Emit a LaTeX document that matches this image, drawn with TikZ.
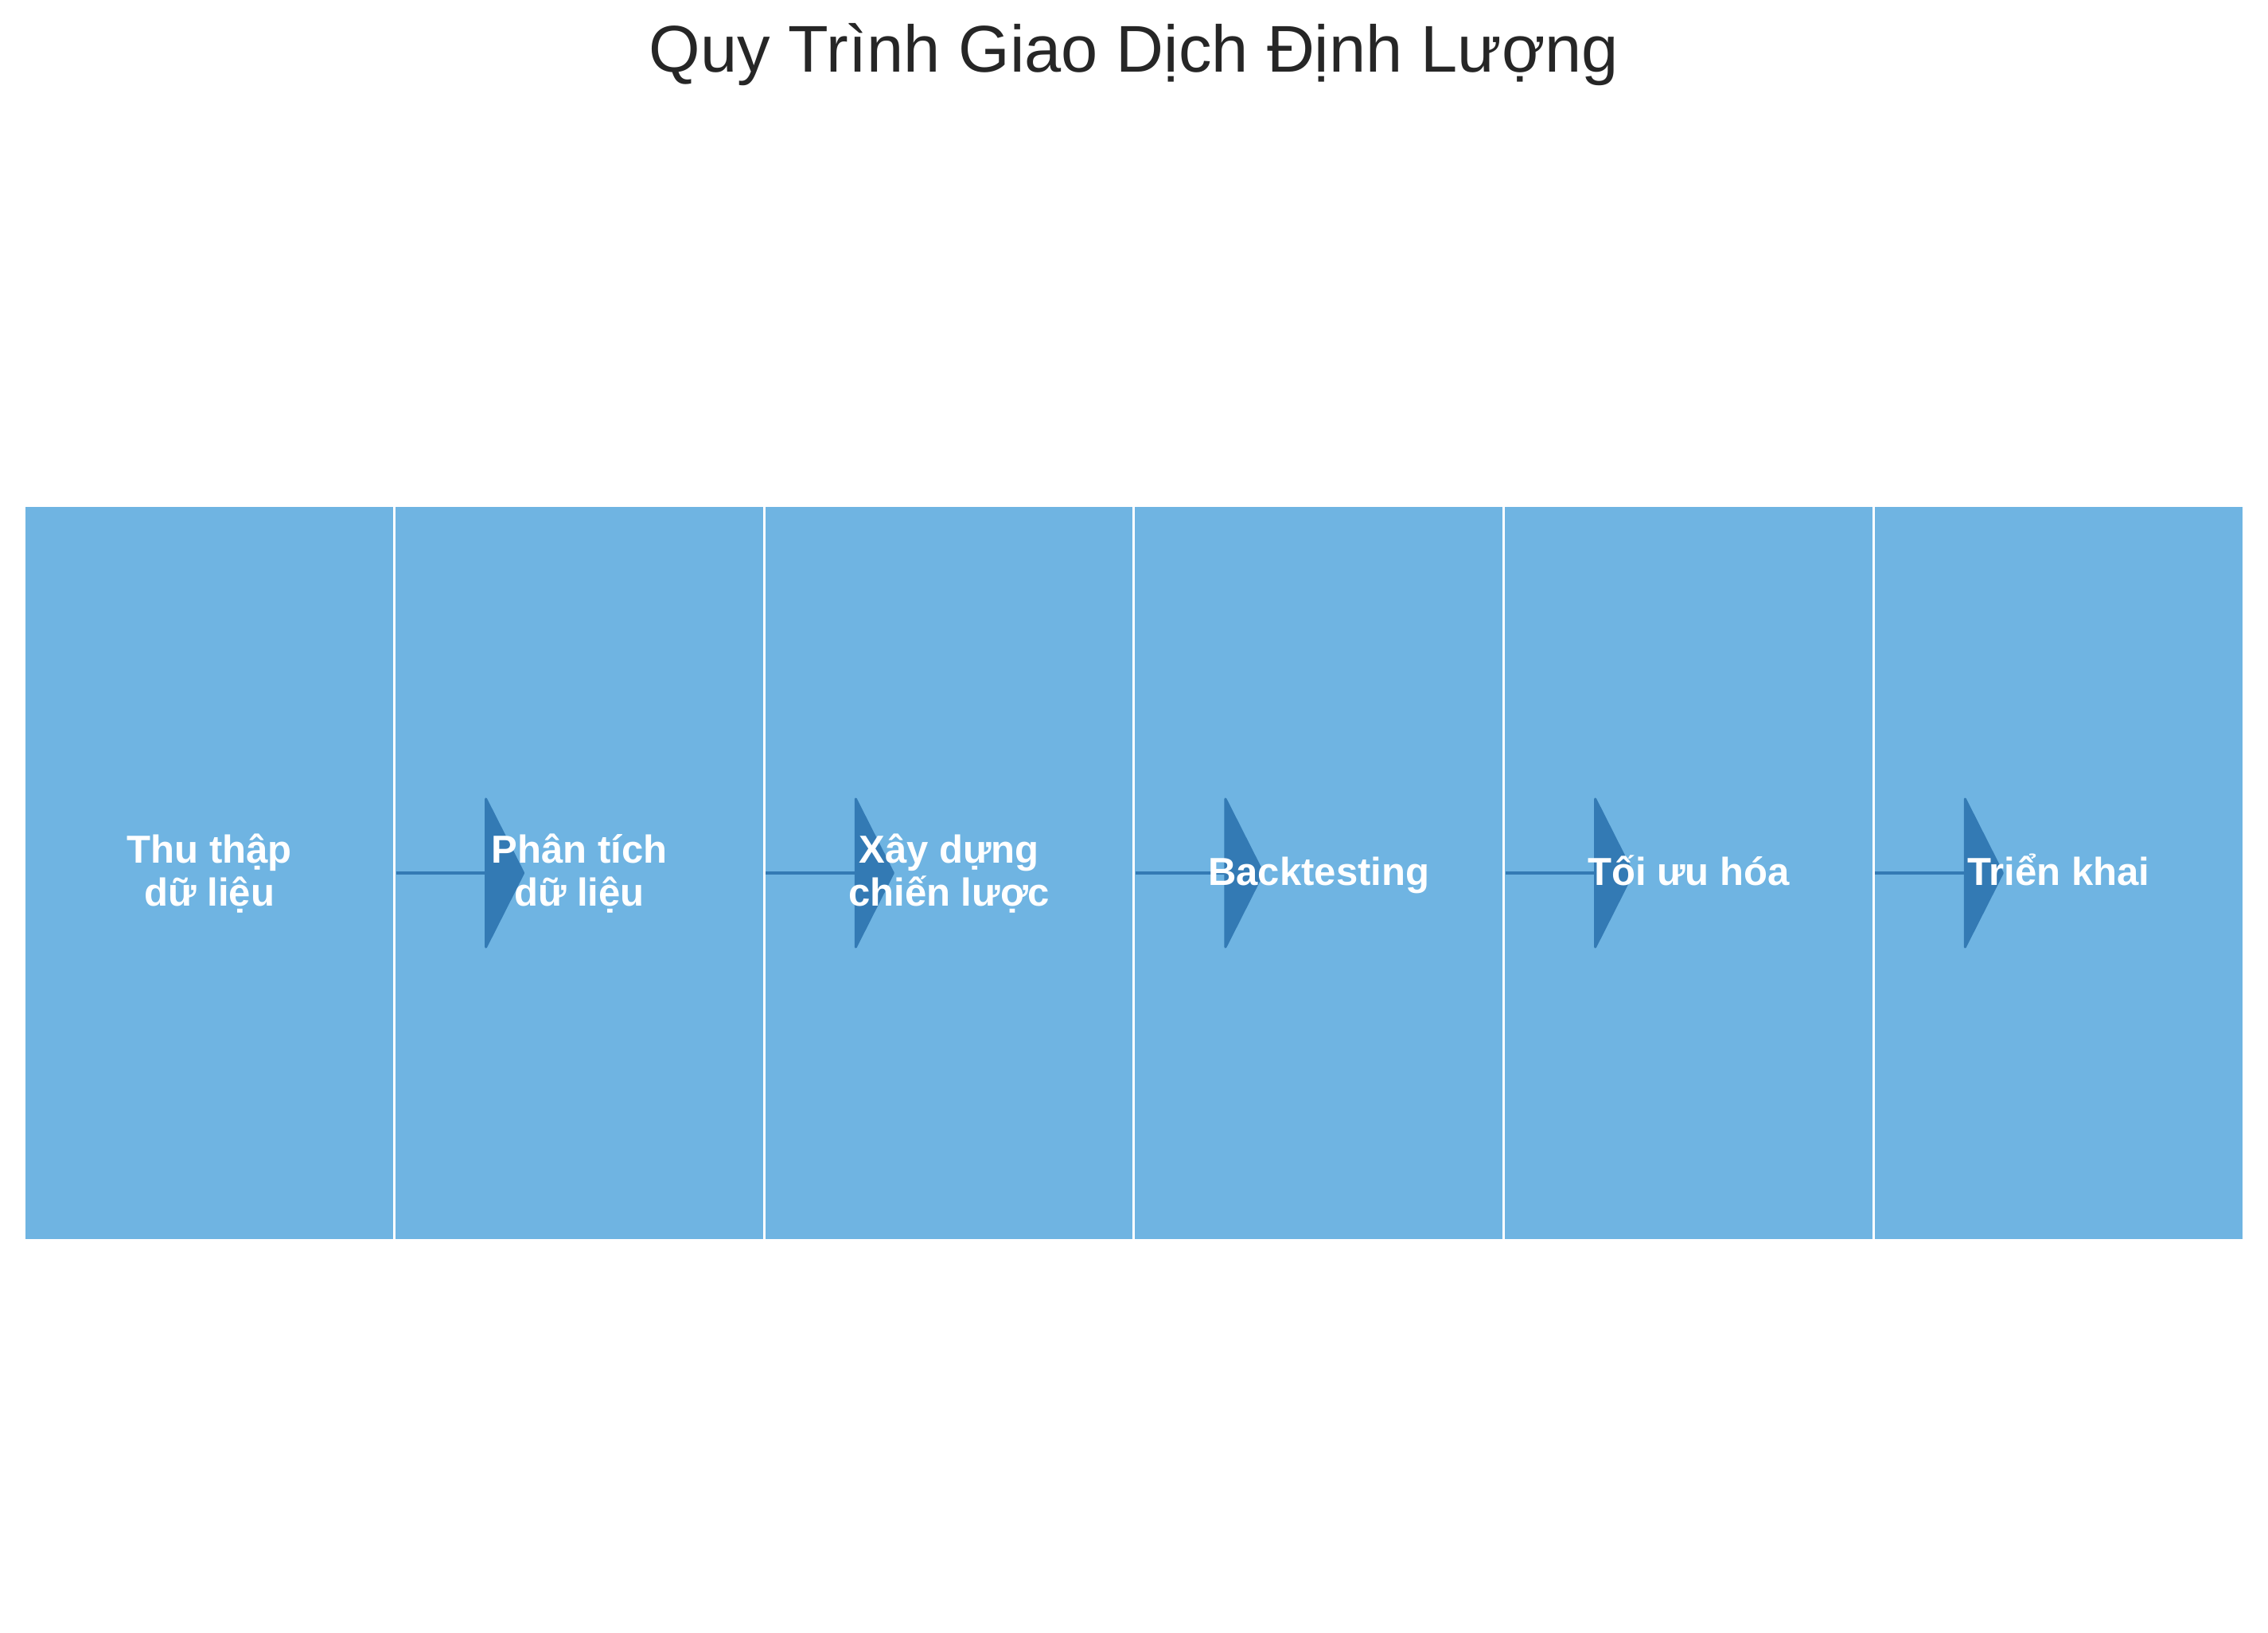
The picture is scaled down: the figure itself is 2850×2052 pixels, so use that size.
\documentclass[tikz,border=0pt]{standalone}
\usepackage{fontspec}
\setmainfont{Liberation Sans}
\definecolor{boxblue}{RGB}{111,180,226}
\definecolor{arrowblue}{RGB}{51,122,180}
\definecolor{titlegray}{RGB}{38,38,38}
\begin{document}
\begin{tikzpicture}[x=0.01cm,y=-0.01cm,
  stage/.style={draw=white, line width=0.03cm, fill=boxblue, minimum width=4.6467cm, minimum height=9.22cm, inner sep=0pt, outer sep=0pt},
  lbl/.style={text=white, font=\bfseries\fontsize{13.95pt}{15.1pt}\selectfont, align=center, inner sep=0pt, anchor=base},
  shaft/.style={draw=arrowblue, line width=0.04cm},
  head/.style={fill=arrowblue, draw=arrowblue, line width=0.03cm, line join=round}]
\useasboundingbox (0,0) rectangle (2850,2052);
\node[font=\fontsize{23.6pt}{28pt}\selectfont, text=titlegray, anchor=base, inner sep=0pt] (title) at (1425,91) {Quy Trình Giao Dịch Định Lượng};
% boxes
\node[stage] (b1) at (263.3,1097) {};
\node[stage] (b2) at (728.0,1097) {};
\node[stage] (b3) at (1192.7,1097) {};
\node[stage] (b4) at (1657.3,1097) {};
\node[stage] (b5) at (2122.0,1097) {};
\node[stage] (b6) at (2586.7,1097) {};
% arrows
\foreach \a/\b in {b1/b2,b2/b3,b3/b4,b4/b5,b5/b6}{
  \draw[shaft] ([xshift=0.02cm]\a.east) -- ([xshift=1.16cm]\b.west);
  \path[head] ([xshift=1.15cm,yshift=0.93cm]\b.west) -- ([xshift=1.62cm]\b.west) -- ([xshift=1.15cm,yshift=-0.93cm]\b.west) -- cycle;
}
% labels (baselines as in the reference)
\node[lbl] (l1) at (b1.center |- 0,1138) {Thu thập\\dữ liệu};
\node[lbl] (l2) at (b2.center |- 0,1138) {Phân tích\\dữ liệu};
\node[lbl] (l3) at (b3.center |- 0,1138) {Xây dựng\\chiến lược};
\node[lbl] (l4) at (b4.center |- 0,1112) {Backtesting};
\node[lbl] (l5) at (b5.center |- 0,1112) {Tối ưu hóa};
\node[lbl] (l6) at (b6.center |- 0,1112) {Triển khai};
\end{tikzpicture}
\end{document}
